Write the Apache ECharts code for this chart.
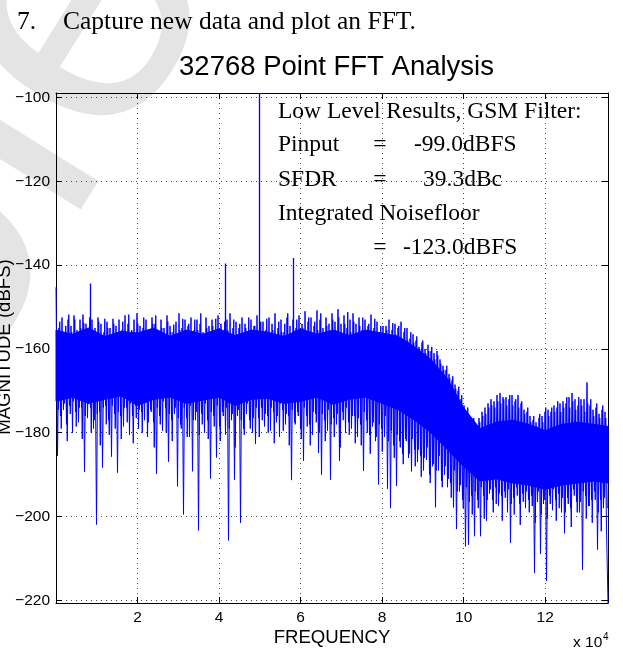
<!DOCTYPE html>
<html><head><meta charset="utf-8">
<script src="https://cdn.jsdelivr.net/npm/echarts@6/dist/echarts.min.js"></script>
<style>html,body{margin:0;padding:0;background:#fff}#c{width:623px;height:652px}</style>
</head><body><div id="c"></div>
<script>
// ---- axis ranges and ticks ----
const X_MAX = 135417;            // half of the GSM sample rate
const Y_MIN = -220.64, Y_MAX = -98.9;
const xTicks = [20000, 40000, 60000, 80000, 100000, 120000];
const yTicks = [-220, -200, -180, -160, -140, -120, -100];

// ---- spectrum, trace A: per-column peak (hi) and trough (lo), dBFS ----
const hi = [
-145.3,-155,-152.5,-156,-153,-154.5,-152,-155.5,-153,-151.8,
-154,-156.5,-153,-155,-152.5,-154,-156,-153.5,-155,-152.8,
-154.5,-153,-155.5,-152,-154,-156.5,-153,-151.5,-154.5,-155,
-153,-155.5,-152.5,-154,-156,-153,-155,-152,-154.5,-156,
-153.5,-151.5,-155,-153,-154.5,-152.5,-155.5,-153,-154,-156,
-152.5,-154.5,-153,-155.5,-152,-154,-156,-153,-151.5,-155,
-153.5,-155,-152.5,-154,-156.5,-153,-154.5,-152,-155,-153.5,
-155.5,-152.5,-154,-151.5,-155,-153,-156,-152.5,-154.5,-153,
-155,-152,-154,-151,-153.5,-152.5,-154.5,-150.8,-153,-155,
-152.5,-154,-151.5,-153.5,-150.5,-154,-152,-155,-153,-151.5,
-154,-152.5,-155.5,-153,-154.5,-151.8,-155,-153.5,-156,-154.5,
-154.5,-153,-155.5,-154,-155,-153.5,-156,-155,-157.5,-156.5,
-158,-159.5,-158.5,-160,-159,-160.5,-161,-160.5,-162.5,-164,
-165,-166,-167.5,-168.5,-170,-172,-173.5,-175,-176.5,-177.5,
-178,-176.5,-175,-174,-173,-172,-172.5,-171,-170.5,-171.5,
-171.5,-172,-171,-172.5,-171,-173,-174.5,-175,-176,-177,
-177.5,-176.5,-176,-175,-174.5,-175,-173.5,-174,-173,-172.5,
-173,-171.5,-170.5,-172,-173.5,-172,-172,-168,-173.5,-174.5,
-174,-175.5,-174.5,-175
];
const lo = [
-185.5,-176,-174.5,-178,-173.5,-180,-175,-177.5,-174,-189.3,
-176.5,-174,-179,-201.9,-175,-188.3,-173.5,-177,-185.7,-175.5,
-189.5,-176,-178.5,-174,-180.5,-176,-173.5,-179,-175,-177,
-181,-174.5,-177.5,-189.8,-176,-179.5,-174,-186.9,-177,-175.5,
-192.8,-178,-199.5,-176.5,-181,-189.2,-177,-203.3,-175.5,-180,
-177,-190.9,-176,-185.9,-178.5,-175,-180.5,-205.7,-177,-191.2,
-176,-201.5,-179,-175.5,-177,-180,-182.7,-176.5,-174,-178.5,
-176,-179.5,-175,-177.5,-181,-174.5,-178,-176,-191.3,-177.5,
-175,-179,-186.7,-176,-178,-180.5,-175.5,-184.8,-190,-177,
-179.5,-191.2,-176.5,-178,-186.7,-175,-180,-177.5,-179,-176,
-181,-178,-189.1,-177,-180.5,-178.5,-182,-192.3,-179,-181,
-193.4,-198,-183,-192.7,-182,-185,-181.5,-186,-189.2,-184,
-187,-185.5,-189,-186.5,-190,-188,-197.8,-189,-191.5,-190,
-193,-192,-197.8,-203,-194,-196,-207.1,-206.7,-195,-204.7,
-196,-204.7,-195,-201,-194.5,-196,-193,-197.5,-195,-194,
-199,-206.3,-195.5,-193,-197,-194.5,-198,-196,-195,-213.5,
-196.5,-208.9,-197,-215.4,-195,-198.5,-196,-194.5,-199,-204,
-195.5,-198,-193.5,-196.5,-199,-212.7,-195,-197.5,-196,-194,
-207.9,-196,-198,-203
];
// ---- spectrum, trace B: the interleaved bins between those of trace A ----
const hi2 = [
-156.5,-153.5,-157,-154.5,-151.8,-156,-153,-157.5,-155,-153.8,
-157,-152.5,-155.5,-156.8,-153.5,-157.5,-152.8,-155,-157.2,-154,
-156,-158,-153.5,-156.5,-151.8,-155.5,-157.5,-154,-156.5,-152.5,
-155.8,-157.5,-154,-152,-156.5,-155,-157.8,-153.5,-156,-154.2,
-157,-155.5,-152.8,-156.5,-154,-157.5,-153,-155.5,-151.5,-156.5,
-155,-157.5,-154.5,-152.8,-156.5,-157.8,-153.5,-155.5,-157,-153,
-156.5,-154,-157.5,-155,-152.5,-156,-154.5,-157.5,-153.5,-156,
-152.8,-156.5,-155.5,-157.5,-153.5,-156,-154,-151.5,-157,-155.5,
-153,-156.5,-155,-157.5,-152.5,-156,-153.5,-155.5,-151.5,-156.5,
-154.5,-157,-153,-155.5,-152.5,-156.5,-154,-151.2,-156,-153.5,
-156.5,-154.5,-152.5,-156,-154,-157.5,-152.8,-156,-154.5,-157,
-155.5,-157,-153.8,-156.5,-154.5,-157.5,-155,-158,-156,-158.5,
-157,-160,-158,-161,-160.5,-159.5,-162.5,-161.5,-163.5,-165,
-164,-167,-166.5,-169.5,-169,-171,-174.5,-174,-177,-176.5,
-179,-177.5,-176,-175.5,-174,-173.5,-174,-172.5,-173,-172,
-173.5,-171,-173.5,-172,-174,-172.5,-175.5,-174,-177.5,-176,
-178.5,-175.5,-177.5,-174,-176,-174,-175,-172.5,-175,-174,
-171.5,-174,-172.5,-174.5,-171.5,-173.5,-175,-173,-172,-176,
-173,-176.5,-173.5,-176.5
];
const lo2 = [
-174.5,-179,-173,-182,-175.5,-172.5,-178.5,-174,-181.5,-176,
-173,-180,-177,-175.5,-183,-174,-178,-180.5,-173.5,-179,
-175,-181.5,-174,-177.5,-173,-182.5,-176.5,-174.5,-180,-172.8,
-177.5,-175,-183.5,-174,-178,-172.5,-180,-175.5,-182,-174,
-176.5,-179,-174,-181,-173.5,-177,-175,-180.5,-178,-173,
-181.5,-175,-178.5,-173.5,-182,-176,-174,-179,-175.5,-183.5,
-174.5,-177,-180.5,-173,-179,-176.5,-174,-181,-177,-175.5,
-180,-174,-182.5,-176,-173,-179.5,-175.5,-183,-174.5,-178,
-176,-181.5,-174,-178.5,-183,-175,-177.5,-180,-175.5,-182,
-174.5,-178,-181,-175.5,-183.5,-177,-174,-180.5,-176,-182.5,
-176.5,-183,-175,-180,-185,-177.5,-181,-178,-184.5,-176,
-182,-179.5,-186,-180.5,-183.5,-187.5,-182,-185,-181.5,-188,
-184,-190.5,-186,-183.5,-192,-187.5,-189,-185.5,-193,-188,
-191,-195.5,-189,-194,-192.5,-198,-193,-196.5,-199.5,-194,
-198,-193,-200.5,-196,-193.5,-199,-197,-194.5,-201,-195.5,
-193.5,-197,-199.5,-195,-202,-196.5,-194,-199,-197.5,-201.5,
-194,-199.5,-196,-200.5,-197,-193.5,-201,-198,-195.5,-199,
-197,-202.5,-195,-199,-196.5,-194,-200.5,-197.5,-201.5,-196,
-199,-203.5,-195.5,-198
];
const endValue = -220.64;

// ---- solid core of the noise band (ragged edges) ----
const coreFreq = [0,4000,8000,12000,16000,20000,24000,28000,32000,36000,40000,44000,48000,52000,56000,60000,64000,68000,72000,76000,80000,
                  84000,88000,92000,96000,100000,104000,108000,112000,116000,120000,124000,128000,132000,135417];
const coreTop  = [-155.5,-156.5,-155,-157,-155.8,-156.2,-155,-157,-155.5,-156.5,-155.2,-156.8,-155.5,-156,-157,-155.2,-156.5,-155.5,-156.8,-155.5,-156.2,
                  -157,-159.5,-162.5,-167,-174,-179,-177.5,-177,-178,-179.5,-178,-177.5,-178,-178.5];
const coreBot  = [-172.5,-171.5,-173,-172,-171.2,-173.5,-172,-171.5,-173,-172.2,-171.5,-173.5,-172,-171.8,-173,-172.5,-171.5,-173.2,-172,-171.5,-173,
                  -174.5,-177,-180,-184,-188,-191.5,-191,-192,-192.5,-193.5,-192.5,-192,-191.5,-192];

// ---- discrete tones ----
const spikeFreq = [8333, 41420, 49760, 58090];
const spikePeak = [-144.4, -139.6, -98.9, -138.3];
const spikeBase = -157;

// ---- texts ----
const headerNum = '7.';
const headerText = 'Capture new data and plot an FFT.';
const titleText = '32768 Point FFT Analysis';
const xName = 'FREQUENCY';
const yName = 'MAGNITUDE (dBFS)';
const noteLines = ['Low Level Results, GSM Filter:', 'Pinput', 'SFDR', 'Integrated Noisefloor'];
const noteValues = ['-99.0dBFS', '39.3dBc', '-123.0dBFS'];
const watermark = 'Obsolete';

const N = hi.length;
const dx = X_MAX / N;
const traceA = [], traceB = [];
for (let i = 0; i < N; i++) {
  traceA.push([i * dx, hi[i]]);
  traceA.push([(i + 0.5) * dx, lo[i]]);
  traceB.push([(i + 0.25) * dx, hi2[i]]);
  traceB.push([(i + 0.75) * dx, lo2[i]]);
}
traceA.push([X_MAX, endValue]);

const BLUE = '#0000ff';
const SANS = '"Liberation Sans", Arial, sans-serif';
const SERIF = '"Liberation Serif", "Times New Roman", serif';

const chart = echarts.init(document.getElementById('c'), null, {renderer: 'canvas'});

const gridLine = {show: true, lineStyle: {color: '#444', width: 1, type: [1, 4]}};
const frameLine = {show: true, onZero: false, lineStyle: {color: '#000', width: 1}};
const yFmt = v => (v < 0 ? '\u2212' + (-v) : String(v));

function txt(x, y, text, size, family, align, extra) {
  return Object.assign({
    type: 'text', x: x, y: y, z: 50,
    style: {text: text, fontSize: size, fontFamily: family, fill: '#000',
            textAlign: align || 'left', verticalAlign: 'middle'}
  }, extra || {});
}

const traceStyle = {type: 'line', xAxisIndex: 0, yAxisIndex: 0, symbol: 'none', showSymbol: false,
                    sampling: null, clip: true, silent: true, lineStyle: {color: BLUE, width: 1}};

const WM_ROT = 58 * Math.PI / 180;
const option = {
  backgroundColor: '#fff',
  animation: false,
  grid: {left: 56, right: 15, top: 93, bottom: 49, containLabel: false},
  xAxis: [
    {type: 'value', min: 0, max: X_MAX, position: 'bottom',
     axisLine: frameLine,
     axisTick: {show: true, inside: true, length: 6, customValues: xTicks, lineStyle: {color: '#000'}},
     axisLabel: {customValues: xTicks, formatter: v => String(v / 10000), color: '#000',
                 fontFamily: SANS, fontSize: 15.5, margin: 7},
     splitLine: gridLine},
    {type: 'value', min: 0, max: X_MAX, position: 'top',
     axisLine: frameLine,
     axisTick: {show: true, inside: true, length: 6, customValues: xTicks, lineStyle: {color: '#000'}},
     axisLabel: {show: false}, splitLine: {show: false}}
  ],
  yAxis: [
    {type: 'value', min: Y_MIN, max: Y_MAX, position: 'left',
     axisLine: frameLine,
     axisTick: {show: true, inside: true, length: 6, customValues: yTicks, lineStyle: {color: '#000'}},
     axisLabel: {customValues: yTicks, formatter: yFmt, color: '#000',
                 fontFamily: SANS, fontSize: 15.5, margin: 6},
     splitLine: gridLine},
    {type: 'value', min: Y_MIN, max: Y_MAX, position: 'right',
     axisLine: frameLine,
     axisTick: {show: true, inside: true, length: 6, customValues: yTicks, lineStyle: {color: '#000'}},
     axisLabel: {show: false}, splitLine: {show: false}}
  ],
  series: [
    {type: 'custom', xAxisIndex: 0, yAxisIndex: 0, z: 2, silent: true,
     data: [[coreFreq[0], coreTop[0]]],
     renderItem: function (params, api) {
       const pts = [];
       for (let k = 0; k < coreFreq.length; k++) pts.push(api.coord([coreFreq[k], coreTop[k]]));
       for (let k = coreFreq.length - 1; k >= 0; k--) pts.push(api.coord([coreFreq[k], coreBot[k]]));
       return {type: 'polygon', shape: {points: pts}, style: {fill: BLUE, stroke: BLUE, lineWidth: 1}};
     }},
    Object.assign({}, traceStyle, {z: 3, data: traceB}),
    Object.assign({}, traceStyle, {z: 3, data: traceA}),
    {type: 'lines', coordinateSystem: 'cartesian2d', xAxisIndex: 0, yAxisIndex: 0, z: 4, silent: true,
     data: spikeFreq.map((f, k) => ({coords: [[f, spikeBase], [f, spikePeak[k]]]})),
     lineStyle: {color: BLUE, width: 1.3, opacity: 1, curveness: 0}}
  ],
  graphic: [
    {type: 'text', x: -503, y: 946, rotation: WM_ROT, z: -10, silent: true,
     style: {text: watermark, fontSize: 380, fontFamily: SANS, fill: '#e4e4e4',
             textAlign: 'left', verticalAlign: 'middle'}},
    txt(17, 22.4, headerNum, 25.5, SERIF),
    txt(63, 22.4, headerText, 25.5, SERIF),
    txt(336.5, 67.5, titleText, 27.5, SANS, 'center'),
    txt(332, 637.6, xName, 18.6, SANS, 'center'),
    txt(573, 642.6, 'x 10', 15.5, SANS),
    txt(603, 637, '4', 10, SANS),
    txt(4.6, 347, yName, 18.6, SANS, 'center', {rotation: Math.PI / 2}),
    txt(278, 112.1, noteLines[0], 23.5, SERIF),
    txt(278, 144.8, noteLines[1], 23.5, SERIF),
    txt(380, 144.8, '=', 23.5, SERIF, 'center'),
    txt(414, 144.8, noteValues[0], 23.5, SERIF),
    txt(278, 179.8, noteLines[2], 23.5, SERIF),
    txt(380, 179.8, '=', 23.5, SERIF, 'center'),
    txt(423, 179.8, noteValues[1], 23.5, SERIF),
    txt(278, 213.8, noteLines[3], 23.5, SERIF),
    txt(380, 248.1, '=', 23.5, SERIF, 'center'),
    txt(403, 248.1, noteValues[2], 23.5, SERIF)
  ]
};
chart.setOption(option);
</script></body></html>
